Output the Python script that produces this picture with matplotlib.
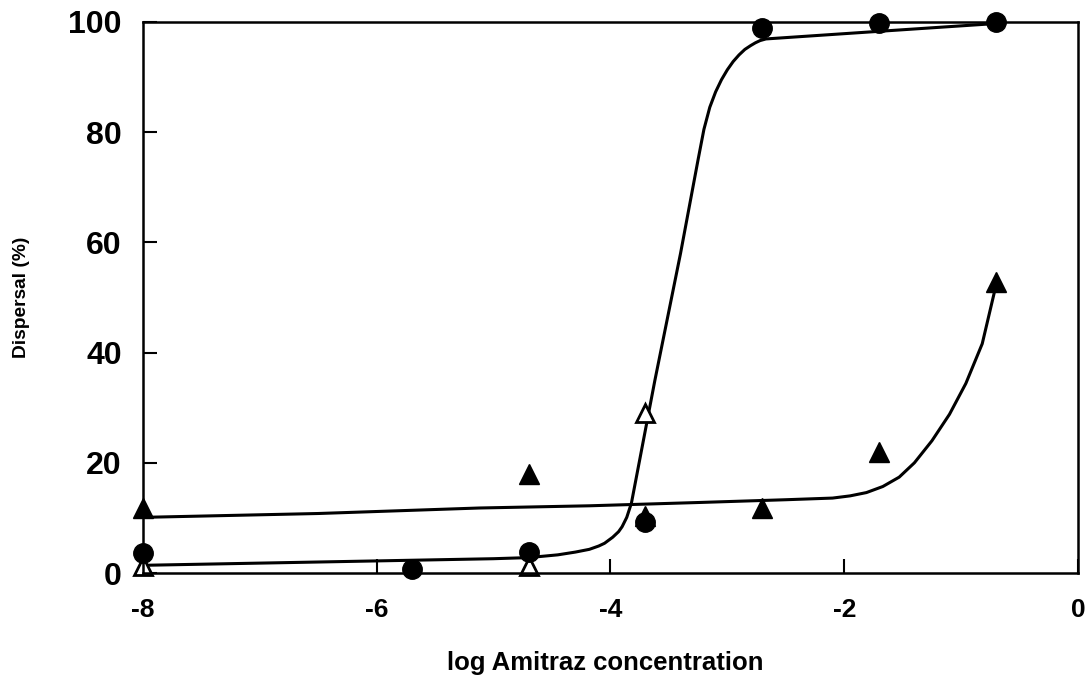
import matplotlib.pyplot as plt

# dados
log_conc = [-8, -5.7, -4.7, -3.7, -2.7, -1.7, -0.7]
circulos = [3.6, 0.8, 3.8, 9.2, 98.8, 99.8, 100.0]
tri_abertos_x = [-8, -4.7, -3.7]
tri_abertos = [1.2, 1.2, 29.0]
tri_cheios_x = [-8, -4.7, -3.7, -2.7, -1.7, -0.7]
tri_cheios = [11.8, 18.0, 10.4, 11.8, 22.0, 52.8]

# curvas ajustadas (pontos lidos)
curva1_x = [-8, -6, -5, -4.7, -4.45, -4.3, -4.18, -4.1, -4.05, -3.98, -3.93, -3.9,
            -3.86, -3.82, -3.62, -3.4, -3.25, -3.2, -3.15, -3.1, -3.05, -3.0,
            -2.95, -2.9, -2.85, -2.8, -2.76, -2.72, -2.67, -1.76, -0.7]
curva1_y = [1.4, 2.2, 2.6, 2.8, 3.3, 3.8, 4.3, 4.9, 5.4, 6.5, 7.5, 8.4,
            10.1, 12.7, 34.9, 58.0, 75.0, 80.5, 84.5, 87.3, 89.5, 91.3,
            92.8, 94.0, 95.0, 95.7, 96.2, 96.6, 96.9, 98.2, 99.7]
curva2_x = [-8, -6.5, -5.12, -4.18, -3.24, -2.5, -2.1, -1.95, -1.81, -1.67,
            -1.53, -1.4, -1.25, -1.1, -0.96, -0.82, -0.72]
curva2_y = [10.1, 10.8, 11.8, 12.2, 12.8, 13.3, 13.6, 14.0, 14.6, 15.7,
            17.4, 20.0, 24.0, 28.8, 34.4, 41.6, 50.6]

plt.rcParams['font.family'] = ['Liberation Sans', 'DejaVu Sans']
plt.rcParams['axes.unicode_minus'] = False

fig = plt.figure(figsize=(10.89, 6.83), dpi=100)
ax = fig.add_axes([0.131, 0.161, 0.859, 0.807])

ax.plot(curva1_x, curva1_y, color="black", linewidth=2.2)
ax.plot(curva2_x, curva2_y, color="black", linewidth=2.2)

ax.plot(tri_cheios_x, tri_cheios, linestyle="none", marker="^", markersize=14,
        color="black", clip_on=False)
ax.plot(tri_abertos_x, tri_abertos, linestyle="none", marker="^", markersize=13,
        markerfacecolor="white", markeredgecolor="black", markeredgewidth=2,
        clip_on=False)
ax.plot(log_conc, circulos, linestyle="none", marker="o", markersize=14,
        color="black", clip_on=False)

ax.set_xlim(-8, 0)
ax.set_ylim(0, 100)
ax.set_xticks([-8, -6, -4, -2, 0])
ax.set_yticks([0, 20, 40, 60, 80, 100])
ax.tick_params(direction="in", length=10, width=1.5)
ax.tick_params(axis="x", labelsize=19, pad=18)
ax.tick_params(axis="y", labelsize=23, pad=15)
for lbl in ax.get_xticklabels() + ax.get_yticklabels():
    lbl.set_fontweight("bold")
for sp in ax.spines.values():
    sp.set_linewidth(1.8)

ax.set_xlabel("log Amitraz concentration", fontsize=18.5, fontweight="bold",
              va="center", ha="center")
ax.set_ylabel("Dispersal (%)", fontsize=13.8, fontweight="bold",
              va="center", ha="center")
ax.xaxis.set_label_coords(0.495, -0.163)
ax.yaxis.set_label_coords(-0.129, 0.5)

plt.savefig("out.png", dpi=100)
